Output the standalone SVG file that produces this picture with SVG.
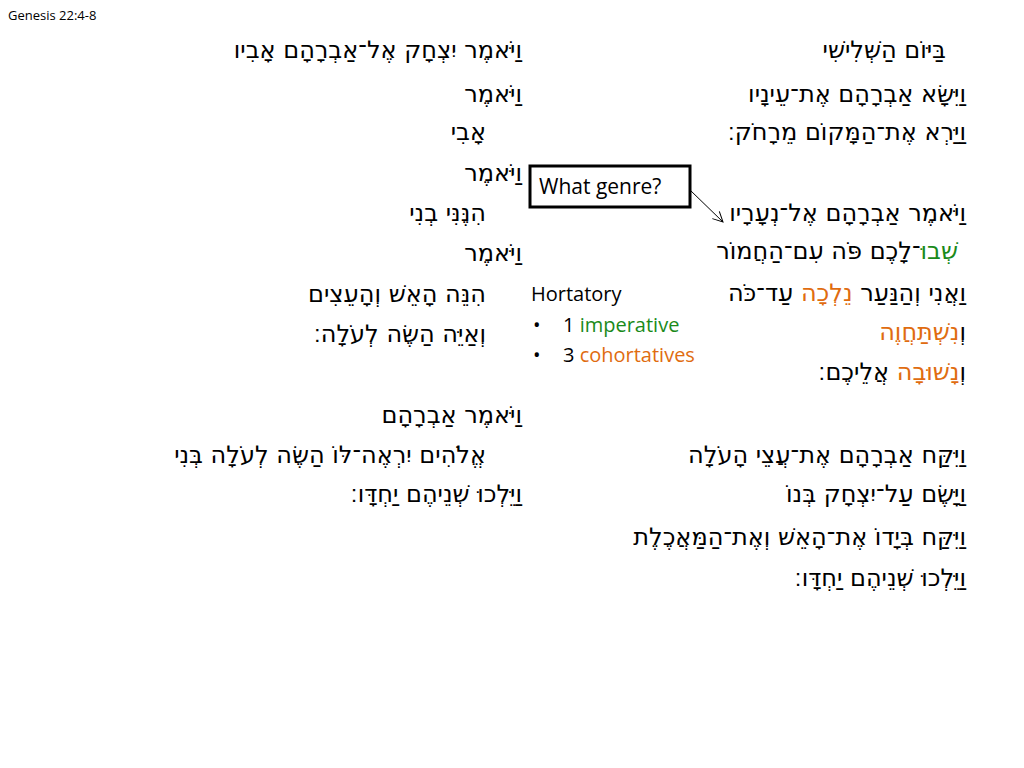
<svg xmlns="http://www.w3.org/2000/svg" width="1024" height="768" viewBox="0 0 1024 768">
<style>
.h{font-family:"DejaVu Sans","Liberation Sans",sans-serif;font-size:24px;fill:#000;direction:rtl;text-anchor:start}
.e{font-family:"Open Sans","Liberation Sans",sans-serif;fill:#000}
.g{fill:#1a8a1a}.o{fill:#e06c10}
</style>
<defs><marker id="a" markerWidth="12" markerHeight="12" refX="11" refY="6" orient="auto" markerUnits="userSpaceOnUse"><path d="M1,1 L11,6 L1,11" fill="none" stroke="#000" stroke-width="1"/></marker></defs>
<rect width="1024" height="768" fill="#fff"/>
<text class="e" x="8" y="20" font-size="13">Genesis 22:4-8</text>
<g id="right">
<text class="h" x="946" y="58">בַּיּוֹם הַשְּׁלִישִׁי</text>
<text class="h" x="966" y="102">וַיִּשָּׂא אַבְרָהָם אֶת־עֵינָיו</text>
<text class="h" x="966" y="140">וַיַּרְא אֶת־הַמָּקוֹם מֵרָחֹק׃</text>
<text class="h" x="966" y="221">וַיֹּאמֶר אַבְרָהָם אֶל־נְעָרָיו</text>
<text class="h" x="958" y="259"><tspan class="g">שְׁבוּ</tspan>־לָכֶם פֹּה עִם־הַחֲמוֹר</text>
<text class="h" x="966" y="301">וַאֲנִי וְהַנַּעַר <tspan class="o">נֵלְכָה</tspan> עַד־כֹּה</text>
<text class="h" x="966" y="340">וְ<tspan class="o">נִשְׁתַּחֲוֶה</tspan></text>
<text class="h" x="966" y="380">וְ<tspan class="o">נָשׁוּבָה</tspan> אֲלֵיכֶם׃</text>
<text class="h" x="966" y="463">וַיִּקַּח אַבְרָהָם אֶת־עֲצֵי הָעֹלָה</text>
<text class="h" x="966" y="502">וַיָּשֶׂם עַל־יִצְחָק בְּנוֹ</text>
<text class="h" x="966" y="545">וַיִּקַּח בְּיָדוֹ אֶת־הָאֵשׁ וְאֶת־הַמַּאֲכֶלֶת</text>
<text class="h" x="966" y="586">וַיֵּלְכוּ שְׁנֵיהֶם יַחְדָּו׃</text>
</g>
<g id="left">
<text class="h" x="522" y="58">וַיֹּאמֶר יִצְחָק אֶל־אַבְרָהָם אָבִיו</text>
<text class="h" x="522" y="102">וַיֹּאמֶר</text>
<text class="h" x="486" y="140">אָבִי</text>
<text class="h" x="522" y="181">וַיֹּאמֶר</text>
<text class="h" x="486" y="221">הִנֶּנִּי בְנִי</text>
<text class="h" x="522" y="261">וַיֹּאמֶר</text>
<text class="h" x="486" y="302">הִנֵּה הָאֵשׁ וְהָעֵצִים</text>
<text class="h" x="486" y="342">וְאַיֵּה הַשֶּׂה לְעֹלָה׃</text>
<text class="h" x="522" y="423">וַיֹּאמֶר אַבְרָהָם</text>
<text class="h" x="486" y="463">אֱלֹהִים יִרְאֶה־לּוֹ הַשֶּׂה לְעֹלָה בְּנִי</text>
<text class="h" x="522" y="502">וַיֵּלְכוּ שְׁנֵיהֶם יַחְדָּו׃</text>
</g>
<g id="genre">
<rect x="530" y="166" width="160" height="41" fill="#fff" stroke="#000" stroke-width="3"/>
<text class="e" x="539" y="194" font-size="21">What genre?</text>
</g>
<g id="notes" class="e" font-size="20">
<text x="531" y="301">Hortatory</text>
<text x="533" y="332">•</text><text x="563" y="332">1 <tspan class="g">imperative</tspan></text>
<text x="533" y="362">•</text><text x="563" y="362">3 <tspan class="o">cohortatives</tspan></text>
</g>
<g id="connectors"><line x1="690" y1="190" x2="723" y2="222" stroke="#000" stroke-width="1" marker-end="url(#a)"/></g>
</svg>
